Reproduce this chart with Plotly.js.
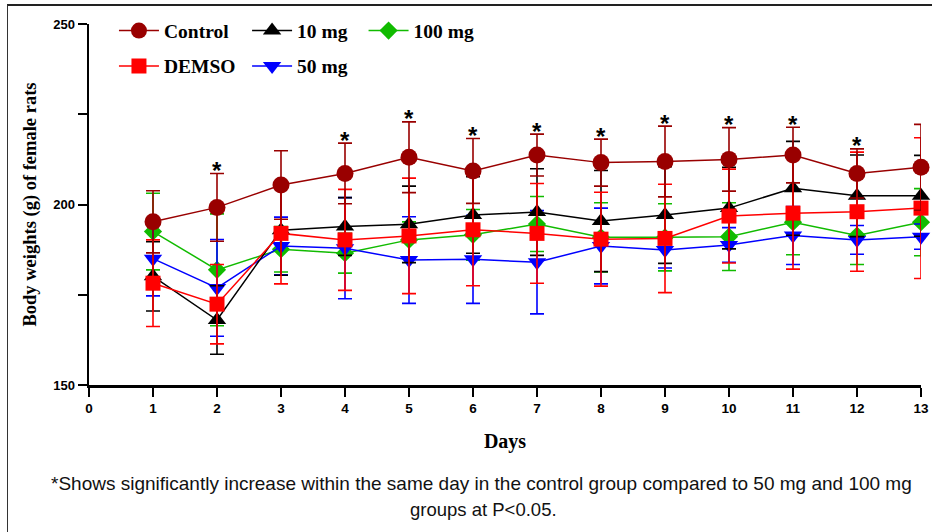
<!DOCTYPE html>
<html>
<head>
<meta charset="utf-8">
<script src="https://cdn.plot.ly/plotly-3.0.1.min.js"></script>
<style>
  html, body { margin: 0; padding: 0; background: #fff; }
  #wrap { position: relative; width: 932px; height: 532px; overflow: hidden; }
  #chart { position: absolute; left: 0; top: 0; width: 932px; height: 532px; }
  #frame { position: absolute; left: 7px; top: 4px; width: 940px; height: 600px;
           border-top: 2px solid #222; border-left: 1px solid #333; pointer-events: none; }
</style>
</head>
<body>
<div id="wrap"><div id="chart"></div><div id="frame"></div></div>
<script>
const days = [1, 2, 3, 4, 5, 6, 7, 8, 9, 10, 11, 12, 13];

const controlMean = [195.2, 199.2, 205.4, 208.6, 213.1, 209.3, 213.7, 211.6, 211.9, 212.5, 213.7, 208.6, 210.3];
const controlSD   = [8.6, 9.4, 9.5, 8.4, 9.8, 9.0, 5.8, 6.5, 9.8, 8.8, 7.7, 6.8, 11.9];

const demsoMean = [178.2, 172.4, 192.0, 190.2, 191.3, 193.0, 192.0, 190.4, 190.6, 196.8, 197.6, 198.0, 199.0];
const demsoSD   = [12.0, 11.0, 14.0, 14.0, 16.0, 15.5, 13.8, 13.0, 15.0, 13.0, 15.5, 16.5, 19.5];

const mg10Mean = [180.1, 168.0, 192.9, 193.9, 194.5, 197.1, 197.9, 195.4, 197.1, 199.0, 204.5, 202.4, 202.4];
const mg10SD   = [9.6, 9.5, 12.5, 8.0, 10.6, 10.6, 12.0, 14.0, 13.4, 11.3, 13.0, 11.3, 11.2];

const mg50Mean = [185.0, 176.9, 188.5, 187.9, 184.6, 184.8, 184.0, 188.5, 187.4, 188.8, 191.4, 190.2, 191.1];
const mg50SD   = [10.3, 13.4, 8.0, 14.0, 12.0, 12.2, 14.3, 10.5, 5.0, 4.8, 8.0, 4.0, 3.5];

const mg100Mean = [192.5, 181.9, 187.6, 186.5, 190.2, 191.6, 194.6, 190.9, 190.9, 191.1, 195.1, 191.4, 195.1];
const mg100SD   = [10.6, 15.5, 6.3, 5.5, 5.0, 7.0, 7.6, 9.6, 9.3, 9.4, 9.0, 8.0, 9.3];

const starDays = [2, 4, 5, 6, 7, 8, 9, 10, 11, 12];

const xTickVals = [0, 1, 2, 3, 4, 5, 6, 7, 8, 9, 10, 11, 12, 13];
const yTickVals = [150, 175, 200, 225, 250];
const yTickText = ["150", "", "200", "", "250"];

function series(name, mean, sd, color, symbol, size, legend, group) {
  return {
    type: 'scatter', mode: 'lines+markers', name: name,
    x: days, y: mean,
    error_y: { type: 'data', array: sd, visible: true, color: color, thickness: 1.6, width: 7 },
    line: { color: color, width: 1.5 },
    marker: { color: color, symbol: symbol, size: size, line: { width: 0 } },
    cliponaxis: false,
    legend: legend, legendgroup: group
  };
}

const traces = [
  series('100 mg', mg100Mean, mg100SD, '#11bb00', 'diamond', 14, 'legend3', 'g5'),
  series('50 mg', mg50Mean, mg50SD, '#0000ff', 'triangle-down', 16, 'legend2', 'g4'),
  series('10 mg', mg10Mean, mg10SD, '#000000', 'triangle-up', 16, 'legend2', 'g3'),
  series('DEMSO', demsoMean, demsoSD, '#ff0000', 'square', 15, 'legend', 'g2'),
  series('Control', controlMean, controlSD, '#990000', 'circle', 17, 'legend', 'g1')
];

traces[4].legendrank = 1; traces[3].legendrank = 2;
traces[2].legendrank = 1; traces[1].legendrank = 2;

// significance asterisks just above the Control upper error bar
const starAnnotations = starDays.map(d => {
  const i = days.indexOf(d);
  return {
    xref: 'x', yref: 'y', x: d, y: controlMean[i] + controlSD[i],
    text: '*', showarrow: false, xanchor: 'center', yanchor: 'middle', yshift: 3,
    font: { family: 'Liberation Sans', size: 24, color: '#000', weight: 'bold' }
  };
});

const legFont = { family: 'Liberation Serif', size: 19.5, color: '#000', weight: 'bold' };
const legBase = { bgcolor: 'rgba(0,0,0,0)', borderwidth: 0, font: legFont, xanchor: 'left', yanchor: 'top',
                  orientation: 'v', traceorder: 'grouped', tracegroupgap: 7, itemwidth: 40 };

const layout = {
  width: 932, height: 532,
  margin: { l: 89, r: 11, t: 24, b: 147 },
  paper_bgcolor: '#fff', plot_bgcolor: '#fff',
  showlegend: true,
  xaxis: {
    range: [0, 13], tickvals: xTickVals, ticktext: xTickVals.map(String),
    showgrid: false, zeroline: false, showline: true, linecolor: '#000', linewidth: 2.5,
    ticks: 'outside', ticklen: 9, tickwidth: 2, tickcolor: '#000',
    tickfont: { family: 'Liberation Sans', size: 13.5, color: '#000', weight: 'bold' },
    title: { text: 'Days', font: { family: 'Liberation Serif', size: 20, color: '#000', weight: 'bold' }, standoff: 20 }
  },
  yaxis: {
    range: [150, 250], tickvals: yTickVals, ticktext: yTickText,
    showgrid: false, zeroline: false, showline: true, linecolor: '#000', linewidth: 2.5,
    ticks: 'outside', ticklen: 9, tickwidth: 2, tickcolor: '#000',
    tickfont: { family: 'Liberation Sans', size: 13, color: '#000', weight: 'bold' },
    title: { text: 'Body weights (g) of female rats', font: { family: 'Liberation Serif', size: 18.5, color: '#000', weight: 'bold' }, standoff: 12 }
  },
  legend: Object.assign({}, legBase, { x: 0.03, y: 1.035 }),
  legend2: Object.assign({}, legBase, { x: 0.19, y: 1.035 }),
  legend3: Object.assign({}, legBase, { x: 0.33, y: 1.035 }),
  annotations: starAnnotations.concat([
    { xref: 'paper', yref: 'paper', x: 0.472, y: -0.2715, xanchor: 'center', yanchor: 'middle', showarrow: false,
      text: '*Shows significantly increase within the same day in the control group compared to 50 mg and 100 mg',
      font: { family: 'Liberation Sans', size: 19, color: '#111' } },
    { xref: 'paper', yref: 'paper', x: 0.474, y: -0.346, xanchor: 'center', yanchor: 'middle', showarrow: false,
      text: 'groups at P&lt;0.05.',
      font: { family: 'Liberation Sans', size: 18.5, color: '#111' } }
  ])
};

Plotly.newPlot('chart', traces, layout, { staticPlot: true, displayModeBar: false });
</script>
</body>
</html>
